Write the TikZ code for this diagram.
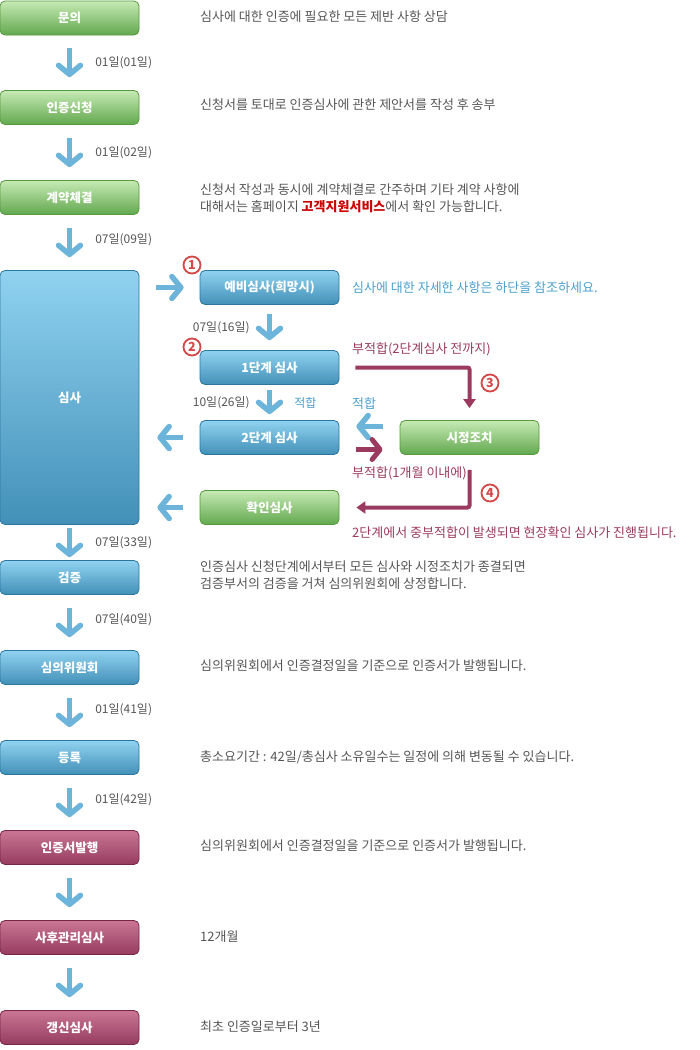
\documentclass[tikz,border=0pt]{standalone}
\usepackage{fontspec}
\setmainfont{Noto Sans CJK KR}
\usetikzlibrary{arrows.meta,positioning}
\definecolor{arrowblue}{RGB}{108,180,218}
\definecolor{failred}{RGB}{155,58,94}
\definecolor{infoblue}{RGB}{74,160,204}
\definecolor{txtgray}{RGB}{85,85,85}
\definecolor{numred}{RGB}{212,72,72}
\definecolor{linkred}{RGB}{204,0,0}
\definecolor{greentop}{RGB}{198,234,180}
\definecolor{greenbot}{RGB}{98,168,78}
\definecolor{greenline}{RGB}{88,152,62}
\definecolor{bluetop}{RGB}{144,210,240}
\definecolor{bluebot}{RGB}{66,144,184}
\definecolor{blueline}{RGB}{44,118,158}
\definecolor{redtop}{RGB}{202,118,148}
\definecolor{redbot}{RGB}{150,60,95}
\definecolor{redline}{RGB}{118,38,70}
\tikzset{
	stepbox/.style={rounded corners=5pt,minimum width=139pt,minimum height=34pt,inner sep=0pt,text=white,font=\bfseries\fontsize{12.5}{14}\selectfont,line width=0.8pt},%
	greenbox/.style={stepbox,draw=greenline,top color=greentop,bottom color=greenbot},%
	bluebox/.style={stepbox,draw=blueline,top color=bluetop,bottom color=bluebot},%
	redbox/.style={stepbox,draw=redline,top color=redtop,bottom color=redbot},%
	desc/.style={anchor=west,inner sep=0pt,text=txtgray,font=\fontsize{13}{17}\selectfont,align=left},%
	daylabel/.style={midway,right=23pt,inner sep=0pt,text=txtgray,font=\fontsize{12}{14}\selectfont},%
	flowarrow/.style={arrowblue,line width=5.5pt,-{Straight Barb[length=9pt,width=22pt,round]}},%
	downarrow/.style={flowarrow,shorten <=13pt,shorten >=13pt},%
	fixarrow/.style={failred,line width=5pt,-{Straight Barb[length=8pt,width=20pt,round]}},%
	failarrow/.style={failred,line width=4pt,rounded corners=2pt,-{Triangle[length=9pt,width=12pt]}},%
	numcircle/.style={circle,draw=numred,line width=1.8pt,text=numred,inner sep=0pt,minimum size=17pt,font=\bfseries\fontsize{12.5}{12}\selectfont},%
	infotext/.style={anchor=west,inner sep=0pt,text=infoblue,font=\fontsize{13}{14}\selectfont},%
	failtext/.style={infotext,text=failred},%
}

\begin{document}
\begin{tikzpicture}[x=1pt,y=-1pt]
	\useasboundingbox (0,0) rectangle (700,1050);
	% main column
	\node[greenbox] (inq) at (69.5,18) {문의};
	\node[greenbox] (app) at (69.5,107.5) {인증신청};
	\node[greenbox] (con) at (69.5,197.5) {계약체결};
	\node[bluebox,minimum height=254pt] (aud) at (69.5,397.5) {심사};
	\node[bluebox] (ver) at (69.5,577.5) {검증};
	\node[bluebox] (rev) at (69.5,667.5) {심의위원회};
	\node[bluebox] (reg) at (69.5,757.5) {등록};
	\node[redbox] (iss) at (69.5,847.5) {인증서발행};
	\node[redbox] (sur) at (69.5,937.5) {사후관리심사};
	\node[redbox] (ren) at (69.5,1027.5) {갱신심사};

	\draw[downarrow] (inq) -- (app) node[daylabel]{01일(01일)};
	\draw[downarrow] (app) -- (con) node[daylabel]{01일(02일)};
	\draw[downarrow] (con) -- (aud) node[daylabel,yshift=3pt]{07일(09일)};
	\draw[downarrow,shorten <=3pt,shorten >=3pt] (aud) -- (ver) node[daylabel]{07일(33일)};
	\draw[downarrow] (ver) -- (rev) node[daylabel,yshift=3pt]{07일(40일)};
	\draw[downarrow] (rev) -- (reg) node[daylabel,yshift=3pt]{01일(41일)};
	\draw[downarrow] (reg) -- (iss) node[daylabel,yshift=3pt]{01일(42일)};
	\draw[downarrow] (iss) -- (sur);
	\draw[downarrow] (sur) -- (ren);

	% descriptions
	\node[desc] (inqtxt) at (200,17) {심사에 대한 인증에 필요한 모든 제반 사항 상담};
	\node[desc] (apptxt) at (200,105) {신청서를 토대로 인증심사에 관한 제안서를 작성 후 송부};
	\node[desc] (contxt) at (200,198.5) {신청서 작성과 동시에 계약체결로 간주하며 기타 계약 사항에\\대해서는 홈페이지 {\bfseries\color{linkred}고객지원서비스}에서 확인 가능합니다.};
	\node[desc] (vertxt) at (200,575.5) {인증심사 신청단계에서부터 모든 심사와 시정조치가 종결되면\\검증부서의 검증을 거쳐 심의위원회에 상정합니다.};
	\node[desc] (revtxt) at (200,666) {심의위원회에서 인증결정일을 기준으로 인증서가 발행됩니다.};
	\node[desc] (regtxt) at (200,757) {총소요기간 : 42일/총심사 소유일수는 일정에 의해 변동될 수 있습니다.};
	\node[desc] (isstxt) at (200,846) {심의위원회에서 인증결정일을 기준으로 인증서가 발행됩니다.};
	\node[desc] (surtxt) at (200,937) {12개월};
	\node[desc] (rentxt) at (200,1027) {최초 인증일로부터 3년};

	% audit stages
	\node[bluebox] (pre) at (269.5,287.5) {예비심사(희망시)};
	\node[bluebox] (st1) at (269.5,367.5) {1단계 심사};
	\node[bluebox] (st2) at (269.5,437.5) {2단계 심사};
	\node[greenbox] (chk) at (269.5,507.5) {확인심사};
	\node[greenbox] (fix) at (469.5,437.5) {시정조치};

	\node[numcircle] (num1) at (192,265) {1};
	\node[numcircle] (num2) at (192,347) {2};
	\node[numcircle] (num3) at (490,383) {3};
	\node[numcircle] (num4) at (490,493) {4};

	\draw[flowarrow,shorten <=17pt,shorten >=16pt] (aud.east |- pre.west) -- (pre.west);
	\draw[flowarrow,shorten <=17pt,shorten >=18pt] (st2.west) -- (st2.west -| aud.east);
	\draw[flowarrow,shorten <=17pt,shorten >=18pt] (chk.west) -- (chk.west -| aud.east);
	\draw[flowarrow,shorten <=9pt,shorten >=10pt] (pre) -- (st1) node[daylabel,right=0pt,left=17pt]{07일(16일)};
	\draw[flowarrow,shorten <=5pt,shorten >=6pt] (st1) -- (st2) node[daylabel,right=0pt,left=17pt]{10일(26일)} node[daylabel,right=22pt,text=infoblue]{적합};

	\draw[flowarrow,shorten <=17pt,shorten >=17pt] ([yshift=11pt]fix.west) -- ([yshift=11pt]fix.west -| st2.east);
	\draw[fixarrow,shorten <=17pt,shorten >=17pt] ([yshift=-12pt]st2.east) -- ([yshift=-12pt]st2.east -| fix.west);
	\draw[failarrow,shorten >=12pt] ([xshift=16pt]st1.east) -| (fix.north);
	\draw[failarrow,shorten <=15pt,shorten >=17pt] (fix.south) |- (chk.east);

	\node[infotext] (pretxt) at (352,288) {심사에 대한 자세한 사항은 하단을 참조하세요.};
	\node[infotext] (oktxt) at (352,404) {적합};
	\node[failtext] (fail1) at (352,349) {부적합(2단계심사 전까지)};
	\node[failtext] (fail2) at (352,473) {부적합(1개월 이내에)};
	\node[failtext] (failnote) at (352,533) {2단계에서 중부적합이 발생되면 현장확인 심사가 진행됩니다.};
\end{tikzpicture}
\end{document}
